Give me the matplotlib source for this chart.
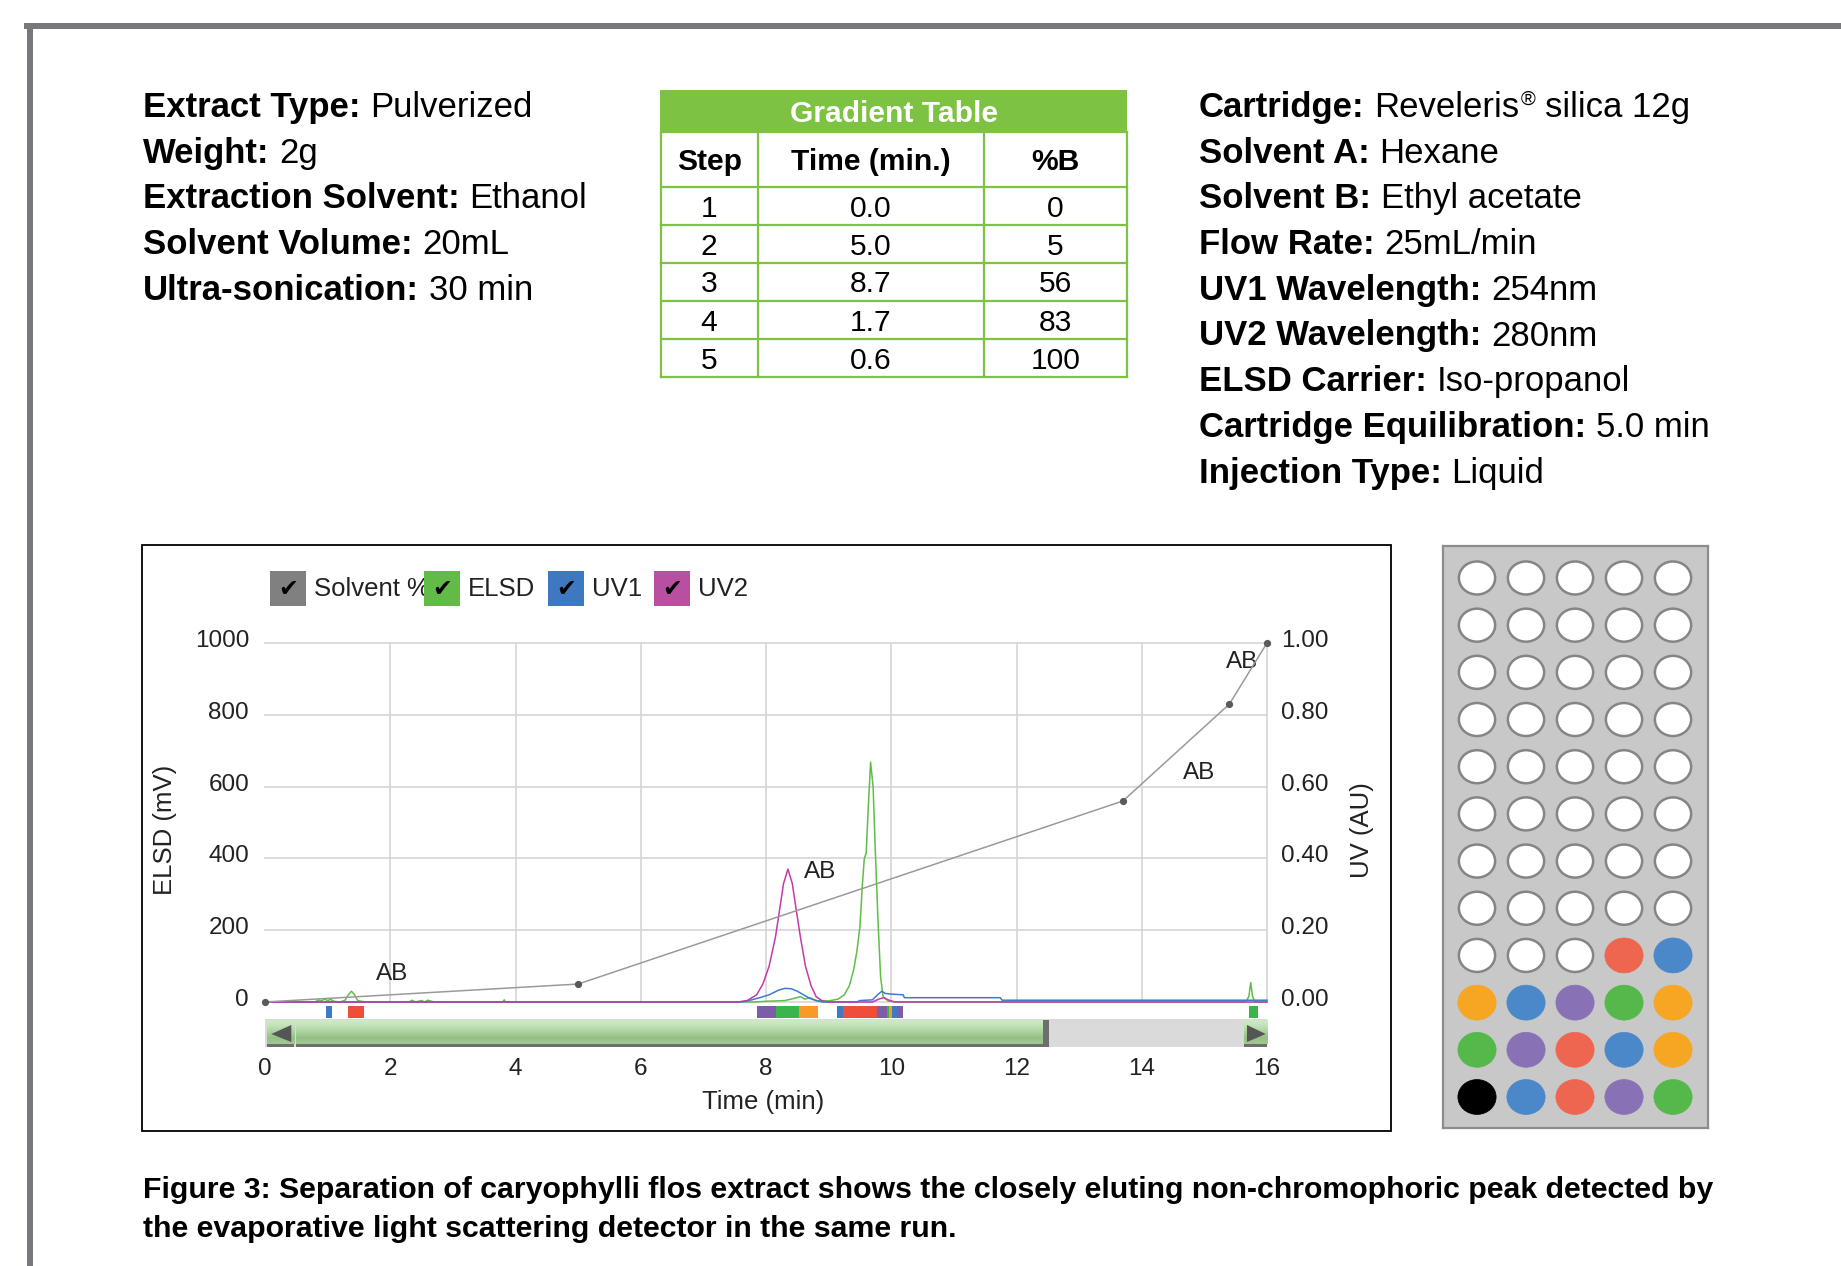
import numpy as np
import matplotlib
matplotlib.use("Agg")
import matplotlib.pyplot as plt
import matplotlib.transforms as mtrans
from matplotlib.patches import Rectangle, Ellipse, Polygon

plt.rcParams["font.family"] = ["Liberation Sans", "DejaVu Sans"]

# ---------------------------------------------------------------- data
info_left_labels = ["Extract Type:", "Weight:", "Extraction Solvent:",
                    "Solvent Volume:", "Ultra-sonication:"]
info_left_values = ["Pulverized", "2g", "Ethanol", "20mL", "30 min"]

info_right_labels = ["Cartridge:", "Solvent A:", "Solvent B:", "Flow Rate:",
                     "UV1 Wavelength:", "UV2 Wavelength:", "ELSD Carrier:",
                     "Cartridge Equilibration:", "Injection Type:"]
info_right_values = ["Reveleris® silica 12g", "Hexane", "Ethyl acetate",
                     "25mL/min", "254nm", "280nm", "Iso-propanol",
                     "5.0 min", "Liquid"]

table_title = "Gradient Table"
table_headers = ["Step", "Time (min.)", "%B"]
gradient_step = [1, 2, 3, 4, 5]
gradient_time = [0.0, 5.0, 8.7, 1.7, 0.6]
gradient_pct_b = [0, 5, 56, 83, 100]

elsd_time = [0.0, 0.5, 0.8, 0.85, 0.9, 0.95, 1.0, 1.05, 1.1, 1.2,
             1.28, 1.33, 1.38, 1.43, 1.48, 1.6, 2.3, 2.35, 2.4, 2.5,
             2.55, 2.6, 2.7, 3.0, 3.8, 3.82, 3.84, 4.0, 5.4, 6.5,
             7.8, 8.0, 8.3, 8.45, 8.55, 8.62, 8.7, 8.8, 9.0, 9.15,
             9.25, 9.33, 9.40, 9.45, 9.50, 9.54, 9.57, 9.60, 9.63, 9.67,
             9.71, 9.75, 9.79, 9.83, 9.87, 9.95, 10.1, 12.0, 15.66, 15.71,
             15.74, 15.77, 15.81, 16.0]
elsd_mv = [0, 0, 0, 6, 3, 8, 4, 7, 2, 0,
           5, 20, 30, 20, 4, 0, 0, 5, 0, 4,
           0, 5, 0, 0, 0, 6, 0, 0, 0, 0,
           0, 2, 4, 10, 15, 8, 12, 4, 3, 8,
           20, 45, 90, 140, 210, 330, 400, 415, 530, 668,
           600, 400, 220, 70, 15, 3, 0, 0, 0, 15,
           54, 15, 0, 0]

uv1_time = [0.0, 7.6, 7.75, 7.9, 8.05, 8.2, 8.3, 8.4, 8.5, 8.6,
            8.7, 8.8, 8.9, 9.45, 9.5, 9.7, 9.78, 9.85, 9.9, 10.0,
            10.19, 10.21, 11.74, 11.77, 16.0]
uv1_au = [0.0, 0.0, 0.005, 0.012, 0.02, 0.033, 0.038, 0.037, 0.03, 0.02,
          0.01, 0.004, 0.0, 0.0, 0.004, 0.006, 0.02, 0.03, 0.024, 0.022,
          0.02, 0.012, 0.012, 0.005, 0.005]

uv2_time = [0.0, 7.55, 7.70, 7.85, 7.95, 8.05, 8.15, 8.22, 8.28, 8.35,
            8.42, 8.48, 8.55, 8.63, 8.72, 8.80, 8.90, 9.0, 9.7, 9.8,
            9.88, 9.95, 10.05, 16.0]
uv2_au = [0.0, 0.0, 0.004, 0.02, 0.05, 0.10, 0.18, 0.26, 0.33, 0.37,
          0.33, 0.26, 0.18, 0.10, 0.045, 0.015, 0.003, 0.0, 0.0, 0.008,
          0.012, 0.006, 0.0, 0.0]

peak_label_time = [2.03, 8.87, 14.91, 15.61]
peak_label_val = [78, 362, 639, 946]
peak_label_text = ["AB", "AB", "AB", "AB"]

frac_start = [0.98, 1.33, 7.86, 8.16, 8.53, 9.13, 9.23, 9.77, 9.93, 9.97, 10.01, 10.09, 15.71]
frac_end = [1.07, 1.58, 8.16, 8.53, 8.83, 9.23, 9.77, 9.93, 9.97, 10.01, 10.09, 10.19, 15.86]
frac_color = ["#3f7ac6", "#ef4e3a", "#7b5ea7", "#3cb44b", "#f79a27", "#3f7ac6",
              "#ef4e3a", "#7b5ea7", "#3cb44b", "#f79a27", "#3f7ac6", "#7b5ea7", "#3cb44b"]

legend_labels = ["Solvent %", "ELSD", "UV1", "UV2"]
legend_colors = ["#808080", "#62bb47", "#3e78c1", "#b84fa0"]

x_ticks = [0, 2, 4, 6, 8, 10, 12, 14, 16]
elsd_ticks = [0, 200, 400, 600, 800, 1000]
uv_ticks = [0.0, 0.2, 0.4, 0.6, 0.8, 1.0]

W_, R_, B_, O_, G_, P_, K_ = None, "#ef6650", "#4a88c9", "#f6a623", "#55b84a", "#8872b5", "#000000"
rack_colors = [
    [W_, W_, W_, W_, W_],
    [W_, W_, W_, W_, W_],
    [W_, W_, W_, W_, W_],
    [W_, W_, W_, W_, W_],
    [W_, W_, W_, W_, W_],
    [W_, W_, W_, W_, W_],
    [W_, W_, W_, W_, W_],
    [W_, W_, W_, W_, W_],
    [W_, W_, W_, R_, B_],
    [O_, B_, P_, G_, O_],
    [G_, P_, R_, B_, O_],
    [K_, B_, R_, P_, G_],
]

caption_lines = [
    "Figure 3: Separation of caryophylli flos extract shows the closely eluting non-chromophoric peak detected by",
    "the evaporative light scattering detector in the same run.",
]

# ---------------------------------------------------------------- figure
W, H = 1841, 1266
fig = plt.figure(figsize=(W / 100, H / 100), dpi=100)
fig.patch.set_facecolor("white")
renderer = fig.canvas.get_renderer()
PX2PT = 0.72


def rect_px(x0, y0, x1, y1, **kw):
    r = Rectangle((x0 / W, 1 - y1 / H), (x1 - x0) / W, (y1 - y0) / H,
                  transform=fig.transFigure, **kw)
    fig.add_artist(r)
    return r


def text_px(x, y, s, **kw):
    return fig.text(x / W, 1 - y / H, s, **kw)


# outer gray frame
rect_px(24, 23, 1841, 29, facecolor="#77787c", lw=0)
rect_px(27, 23, 33, 1266, facecolor="#77787c", lw=0)

# ---------------------------------------------------------------- info text
INFO_SIZE = 25.0
space_px = 0.278 * INFO_SIZE / PX2PT


def info_line(x, yb, label, value):
    t = text_px(x, yb, label, fontsize=INFO_SIZE, fontweight="bold", va="baseline", color="black")
    cur = t.get_window_extent(renderer).x1 + space_px
    parts = value.split("®")
    for i, part in enumerate(parts):
        if part:
            if part.startswith(" "):
                cur += space_px
            t = text_px(cur, yb, part.strip(), fontsize=INFO_SIZE, va="baseline", color="black")
            cur = t.get_window_extent(renderer).x1
        if i < len(parts) - 1:
            t = text_px(cur + 1, yb - 0.36 * INFO_SIZE / PX2PT, "®", fontsize=INFO_SIZE * 0.58,
                        va="baseline", color="black")
            cur = t.get_window_extent(renderer).x1


for i, (lab, val) in enumerate(zip(info_left_labels, info_left_values)):
    info_line(143, 117 + 45.7 * i, lab, val)
for i, (lab, val) in enumerate(zip(info_right_labels, info_right_values)):
    info_line(1199, 117 + 45.7 * i, lab, val)

# ---------------------------------------------------------------- gradient table
TG = "#7dc242"
TX0, TX1, TY0, TY1 = 660, 1127, 90, 377
axt = fig.add_axes([TX0 / W, 1 - TY1 / H, (TX1 - TX0) / W, (TY1 - TY0) / H])
axt.set_xlim(TX0, TX1)
axt.set_ylim(TY1, TY0)
axt.axis("off")
row_edges = [131.7, 186.7, 225, 262.7, 300.7, 339, 376.7]
col_edges = [660.5, 757.7, 984.3, 1126.5]
axt.add_patch(Rectangle((TX0, TY0), TX1 - TX0, row_edges[0] - TY0, color=TG, lw=0))
for ye in row_edges:
    axt.plot([col_edges[0], col_edges[-1]], [ye, ye], color=TG, lw=1.6, clip_on=False)
for xe in col_edges:
    axt.plot([xe, xe], [row_edges[0], row_edges[-1]], color=TG, lw=1.6, clip_on=False)
TSIZE = 21.6
cap = 0.716 * TSIZE / PX2PT
axt.text((TX0 + TX1) / 2, (TY0 + row_edges[0]) / 2 + cap / 2, table_title, color="white",
         fontsize=TSIZE, fontweight="bold", ha="center", va="baseline")
col_c = [(col_edges[i] + col_edges[i + 1]) / 2 for i in range(3)]
for c, h in zip(col_c, table_headers):
    axt.text(c, (row_edges[0] + row_edges[1]) / 2 + cap / 2, h, fontsize=TSIZE,
             fontweight="bold", ha="center", va="baseline", color="black")
for r in range(len(gradient_step)):
    yb = (row_edges[r + 1] + row_edges[r + 2]) / 2 + cap / 2
    vals = [str(gradient_step[r]), f"{gradient_time[r]:.1f}", str(gradient_pct_b[r])]
    for c, v in zip(col_c, vals):
        axt.text(c, yb, v, fontsize=TSIZE, ha="center", va="baseline", color="black")

# ---------------------------------------------------------------- chart box
rect_px(142, 545, 1391, 1131, facecolor="none", edgecolor="black", lw=1.3)

X0, X1, Y0, Y1 = 265, 1267, 643, 1002
CH = 17.5
lift = mtrans.ScaledTranslation(0, 4.5 / 100, fig.dpi_scale_trans)

ax = fig.add_axes([X0 / W, 1 - Y1 / H, (X1 - X0) / W, (Y1 - Y0) / H])
ax.set_xlim(0, 16)
ax.set_ylim(0, 1000)
ax.patch.set_alpha(0)
for s in ax.spines.values():
    s.set_visible(False)
grid_c = "#d6d6d6"
for xv in x_ticks[1:]:
    ax.axvline(xv, color=grid_c, lw=1.2, zorder=0, clip_on=False)
for yv in elsd_ticks:
    ax.axhline(yv, color=grid_c, lw=1.2, zorder=0, clip_on=False)
ax.plot(elsd_time, elsd_mv, color="#5dbf48", lw=1.1, zorder=3, clip_on=False)
ax.set_xticks(x_ticks)
ax.set_xticklabels([str(v) for v in x_ticks])
ax.set_yticks(elsd_ticks)
ax.set_yticklabels([str(v) for v in elsd_ticks])
ax.tick_params(axis="both", length=0, labelsize=CH, colors="#222222")
ax.tick_params(axis="x", pad=40)
ax.tick_params(axis="y", pad=11.5)
for lab in ax.get_yticklabels():
    lab.set_transform(lab.get_transform() + lift)
for t, v in zip(peak_label_text, zip(peak_label_time, peak_label_val)):
    ax.text(v[0], v[1], t, fontsize=CH, ha="center", va="center", color="#222222", zorder=6)

ax2 = ax.twinx()
ax2.set_ylim(0, 1)
for s in ax2.spines.values():
    s.set_visible(False)
ax2.plot(uv1_time, uv1_au, color="#3c7bd0", lw=1.1, zorder=3, clip_on=False)
ax2.plot(uv2_time, uv2_au, color="#c43aa6", lw=1.1, zorder=4, clip_on=False)
ax2.set_yticks(uv_ticks)
ax2.set_yticklabels([f"{v:.2f}" for v in uv_ticks])
ax2.tick_params(axis="y", length=0, labelsize=CH, colors="#222222", pad=10)
for lab in ax2.get_yticklabels():
    lab.set_transform(lab.get_transform() + lift)

ax3 = ax.twinx()
ax3.set_ylim(0, 100)
ax3.axis("off")
solvent_time = np.cumsum(gradient_time)
ax3.plot(solvent_time, gradient_pct_b, color="#9a9a9a", lw=1.1, marker="o", ms=4.2,
         mfc="#5a5a5a", mec="#5a5a5a", clip_on=False, zorder=5)

text_px(165, 830, "ELSD (mV)", fontsize=18.5, rotation=90, ha="center", va="center", color="#222222")
text_px(1362, 830, "UV (AU)", fontsize=18.5, rotation=90, ha="center", va="center", color="#222222")
text_px(763, 1102, "Time (min)", fontsize=18.5, ha="center", va="center", color="#222222")

# legend
box_x = [270, 424, 548, 654]
for bx, lab, col in zip(box_x, legend_labels, legend_colors):
    rect_px(bx, 571, bx + 36, 606, facecolor=col, edgecolor="none", lw=0, zorder=5)
    text_px(bx + 18, 589, "✔", fontsize=17, family="DejaVu Sans",
            ha="center", va="center", color="black", zorder=6)
    text_px(bx + 44, 589, lab, fontsize=18.5, ha="left", va="center", color="#222222", zorder=4)

# fraction bars + scroll bar
axs = fig.add_axes([X0 / W, 1 - 1047 / H, (X1 - X0) / W, 43 / H])
for s_, e_, c_ in zip(frac_start, frac_end, frac_color):
    axs.add_patch(Rectangle((s_, 1.5), e_ - s_, 12, color=c_, lw=0))
axs.add_patch(Rectangle((0, 14.5), 16, 28.5, color="#dadada", lw=0))
grad_cols = np.array([[0.80, 0.91, 0.77], [0.76, 0.88, 0.72], [0.70, 0.84, 0.65],
                      [0.64, 0.80, 0.58], [0.58, 0.75, 0.52], [0.62, 0.78, 0.56]])
grad = grad_cols[:, None, :]
for (gx0, gx1) in [(0.5, 12.52), (0.03, 0.47), (15.63, 16.0)]:
    axs.imshow(grad, extent=(gx0, gx1, 39.5, 16), aspect="auto", interpolation="bilinear",
               origin="upper", zorder=2)
    axs.add_patch(Rectangle((gx0, 39.5), gx1 - gx0, 3.5, color="#6e6e6e", lw=0, zorder=3))
axs.add_patch(Rectangle((12.42, 16), 0.1, 27, color="#6e6e6e", lw=0, zorder=3))
axs.add_patch(Polygon([[0.1, 30], [0.42, 21], [0.42, 38]], closed=True, color="#555555", lw=0, zorder=4))
axs.add_patch(Polygon([[15.98, 30], [15.68, 21], [15.68, 38]], closed=True, color="#555555", lw=0, zorder=4))
axs.set_xlim(0, 16)
axs.set_ylim(43, 0)
axs.axis("off")

# ---------------------------------------------------------------- fraction rack
axr = fig.add_axes([1443 / W, 1 - 1128 / H, 265 / W, 582 / H])
axr.set_xlim(-0.694, 4.714)
axr.set_ylim(11.657, -0.678)
axr.set_facecolor("#c8c8c8")
for s in axr.spines.values():
    s.set_color("#8c8c8c")
    s.set_linewidth(1.6)
axr.set_xticks([])
axr.set_yticks([])
for r, row in enumerate(rack_colors):
    for c, col in enumerate(row):
        if col is None:
            axr.add_patch(Ellipse((c, r), 0.74, 0.70, facecolor="white", edgecolor="#858585", lw=1.8))
        else:
            axr.add_patch(Ellipse((c, r), 0.78, 0.74, facecolor=col, edgecolor=col, lw=0.5))

# ---------------------------------------------------------------- caption
cap_t = text_px(143, 1198, caption_lines[0], fontsize=19, fontweight="bold", va="baseline", color="black")
w = cap_t.get_window_extent(renderer).width
csize = 19 * 1572 / w
cap_t.set_fontsize(csize)
text_px(143, 1237, caption_lines[1], fontsize=csize, fontweight="bold", va="baseline", color="black")

fig.savefig("out.png", dpi=100)
